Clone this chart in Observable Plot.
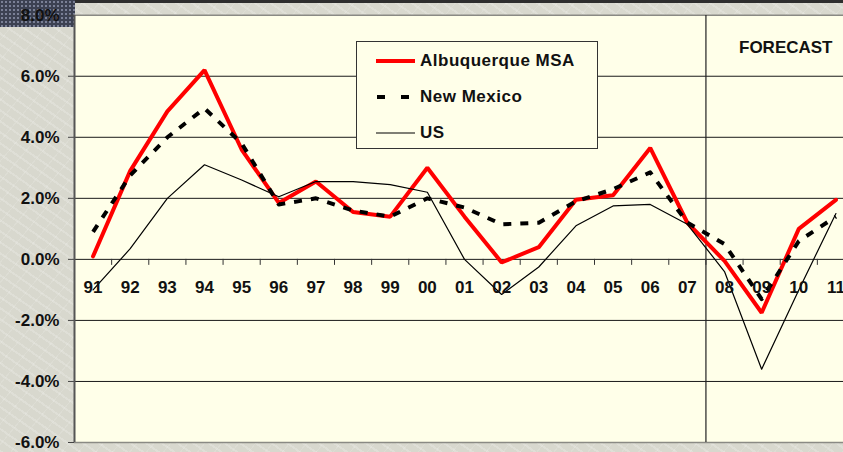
<!DOCTYPE html>
<html>
<head>
<meta charset="utf-8">
<script src="https://cdn.jsdelivr.net/npm/d3@7"></script>
<script src="https://cdn.jsdelivr.net/npm/@observablehq/plot@0.6"></script>
<style>
  html, body { margin: 0; padding: 0; overflow: hidden; }
  body {
    width: 843px; height: 452px; position: relative;
    background-color: #d8d8ce;
    background-image:
      repeating-linear-gradient(35deg, rgba(255,255,255,0.18) 0 2px, transparent 2px 9px),
      repeating-linear-gradient(-50deg, rgba(255,255,255,0.12) 0 1px, transparent 1px 13px);
    font-family: Arial, "Liberation Sans", sans-serif;
  }
  #topband { position: absolute; left: 0; top: 0; width: 843px; height: 3px; background: #2e2e2e; }
  #corner { position: absolute; left: 0; top: 0; width: 75px; height: 27px;
    background-color: #3c4152;
    background-image: radial-gradient(#7a8096 1px, transparent 1.3px);
    background-size: 4px 4px; }
  #chart { position: absolute; left: 0; top: 0; }
  #legend { position: absolute; left: 356px; top: 41px; width: 242px; height: 108px;
    background: #FFFFE9; border: 1px solid #333; box-sizing: border-box; }
  .item { position: absolute; left: 19px; height: 20px; display: flex; align-items: center;
    font-weight: bold; font-size: 17px; letter-spacing: 0.5px; color: #111; }
  .item svg { margin-right: 4px; }
</style>
</head>
<body>
<div id="topband"></div>
<div id="corner"></div>
<div id="chart"></div>
<div id="legend"></div>
<script>
// ---- data ----
const years = ["91","92","93","94","95","96","97","98","99","00","01","02","03","04","05","06","07","08","09","10","11"];
const albuquerque = [0.1, 2.9, 4.85, 6.2, 3.6, 1.85, 2.55, 1.55, 1.4, 3.0, 1.4, -0.1, 0.4, 1.95, 2.1, 3.65, 1.2, -0.05, -1.75, 1.0, 1.95];
const newMexico   = [0.9, 2.75, 4.0, 4.95, 3.8, 1.8, 2.0, 1.6, 1.4, 2.0, 1.7, 1.15, 1.2, 1.9, 2.3, 2.85, 1.2, 0.5, -1.3, 0.6, 1.4];
const us          = [-1.0, 0.35, 2.0, 3.1, 2.6, 2.05, 2.55, 2.55, 2.45, 2.2, 0.0, -1.15, -0.25, 1.1, 1.75, 1.8, 1.15, -0.4, -3.6, -1.0, 1.5];
const yTicks = [-6, -4, -2, 0, 2, 4, 6, 8];
const forecastFrom = "08";
const seriesNames = ["Albuquerque MSA", "New Mexico", "US"];

// ---- build ----
const rows = (arr) => arr.map((v, i) => ({i, v}));
const boundaries = d3.range(years.length + 1).map(k => k - 0.5);
const forecastX = years.indexOf(forecastFrom) - 0.5;
const fmt = d => d.toFixed(1) + "%";
const font = "Arial, 'Liberation Sans', sans-serif";

const chart = Plot.plot({
  width: 843,
  height: 452,
  marginLeft: 74,
  marginRight: 0,
  marginTop: 15,
  marginBottom: 10,
  style: {background: "transparent", overflow: "hidden", fontFamily: font},
  x: {domain: [-0.5, years.length - 0.5], range: [74, 854], axis: null},
  y: {domain: [-6, 8], range: [442, 14.7], axis: null},
  marks: [
    Plot.frame({fill: "#FFFFE9", stroke: null}),
    Plot.ruleY(yTicks.filter(d => d > -6 && d < 8), {y: d => d, stroke: "#1a1a1a", strokeWidth: 1}),
    Plot.ruleY(yTicks.filter(d => d === -6 || d === 8), {y: d => d, stroke: "#8a8a84", strokeWidth: 1.5}),
    Plot.ruleX([forecastX], {x: d => d, stroke: "#222", strokeWidth: 1.2}),
    Plot.ruleX(boundaries.slice(1), {x: d => d, y1: () => 0, y2: () => 0, insetBottom: -6, stroke: "#333", strokeWidth: 1}),
    Plot.ruleY(yTicks, {y: d => d, x1: () => -0.5, x2: () => -0.5, insetLeft: -6, stroke: "#444", strokeWidth: 1}),
    Plot.ruleX([-0.5], {x: d => d, stroke: "#555", strokeWidth: 2}),
    Plot.line(rows(albuquerque), {x: "i", y: "v", stroke: "#FF0000", strokeWidth: 4, strokeLinejoin: "miter"}),
    Plot.line(rows(newMexico), {x: "i", y: "v", stroke: "#000", strokeWidth: 4, strokeDasharray: "8,9", strokeLinecap: "butt"}),
    Plot.line(rows(us), {x: "i", y: "v", stroke: "#000", strokeWidth: 1.2}),
    Plot.text(years, {x: (d, i) => i, y: () => 0, dy: 28, text: d => d, fontSize: 17, fontWeight: "bold", fill: "#111"}),
    Plot.text(yTicks, {y: d => d, text: fmt, frameAnchor: "left", dx: -15, textAnchor: "end", fontSize: 17, fontWeight: "bold", fill: "#111", style: "letter-spacing:0.5px"}),
    Plot.text(["FORECAST"], {frameAnchor: "top-right", dx: -11, dy: 25, text: d => d, fontSize: 17, fontWeight: "bold", fill: "#111"})
  ]
});
document.getElementById("chart").appendChild(chart);

// ---- legend ----
const legend = document.getElementById("legend");
const samples = [
  '<line x1="0" y1="10" x2="39" y2="10" stroke="#FF0000" stroke-width="4"/>',
  '<line x1="1" y1="10" x2="33" y2="10" stroke="#000" stroke-width="4" stroke-dasharray="8,16"/>',
  '<line x1="0" y1="10" x2="39" y2="10" stroke="#000" stroke-width="1.2"/>'
];
const tops = [9, 45, 81];
seriesNames.forEach((name, k) => {
  const div = document.createElement("div");
  div.className = "item";
  div.style.top = tops[k] + "px";
  div.innerHTML = '<svg width="40" height="20">' + samples[k] + '</svg><span>' + name + '</span>';
  legend.appendChild(div);
});
</script>
</body>
</html>
